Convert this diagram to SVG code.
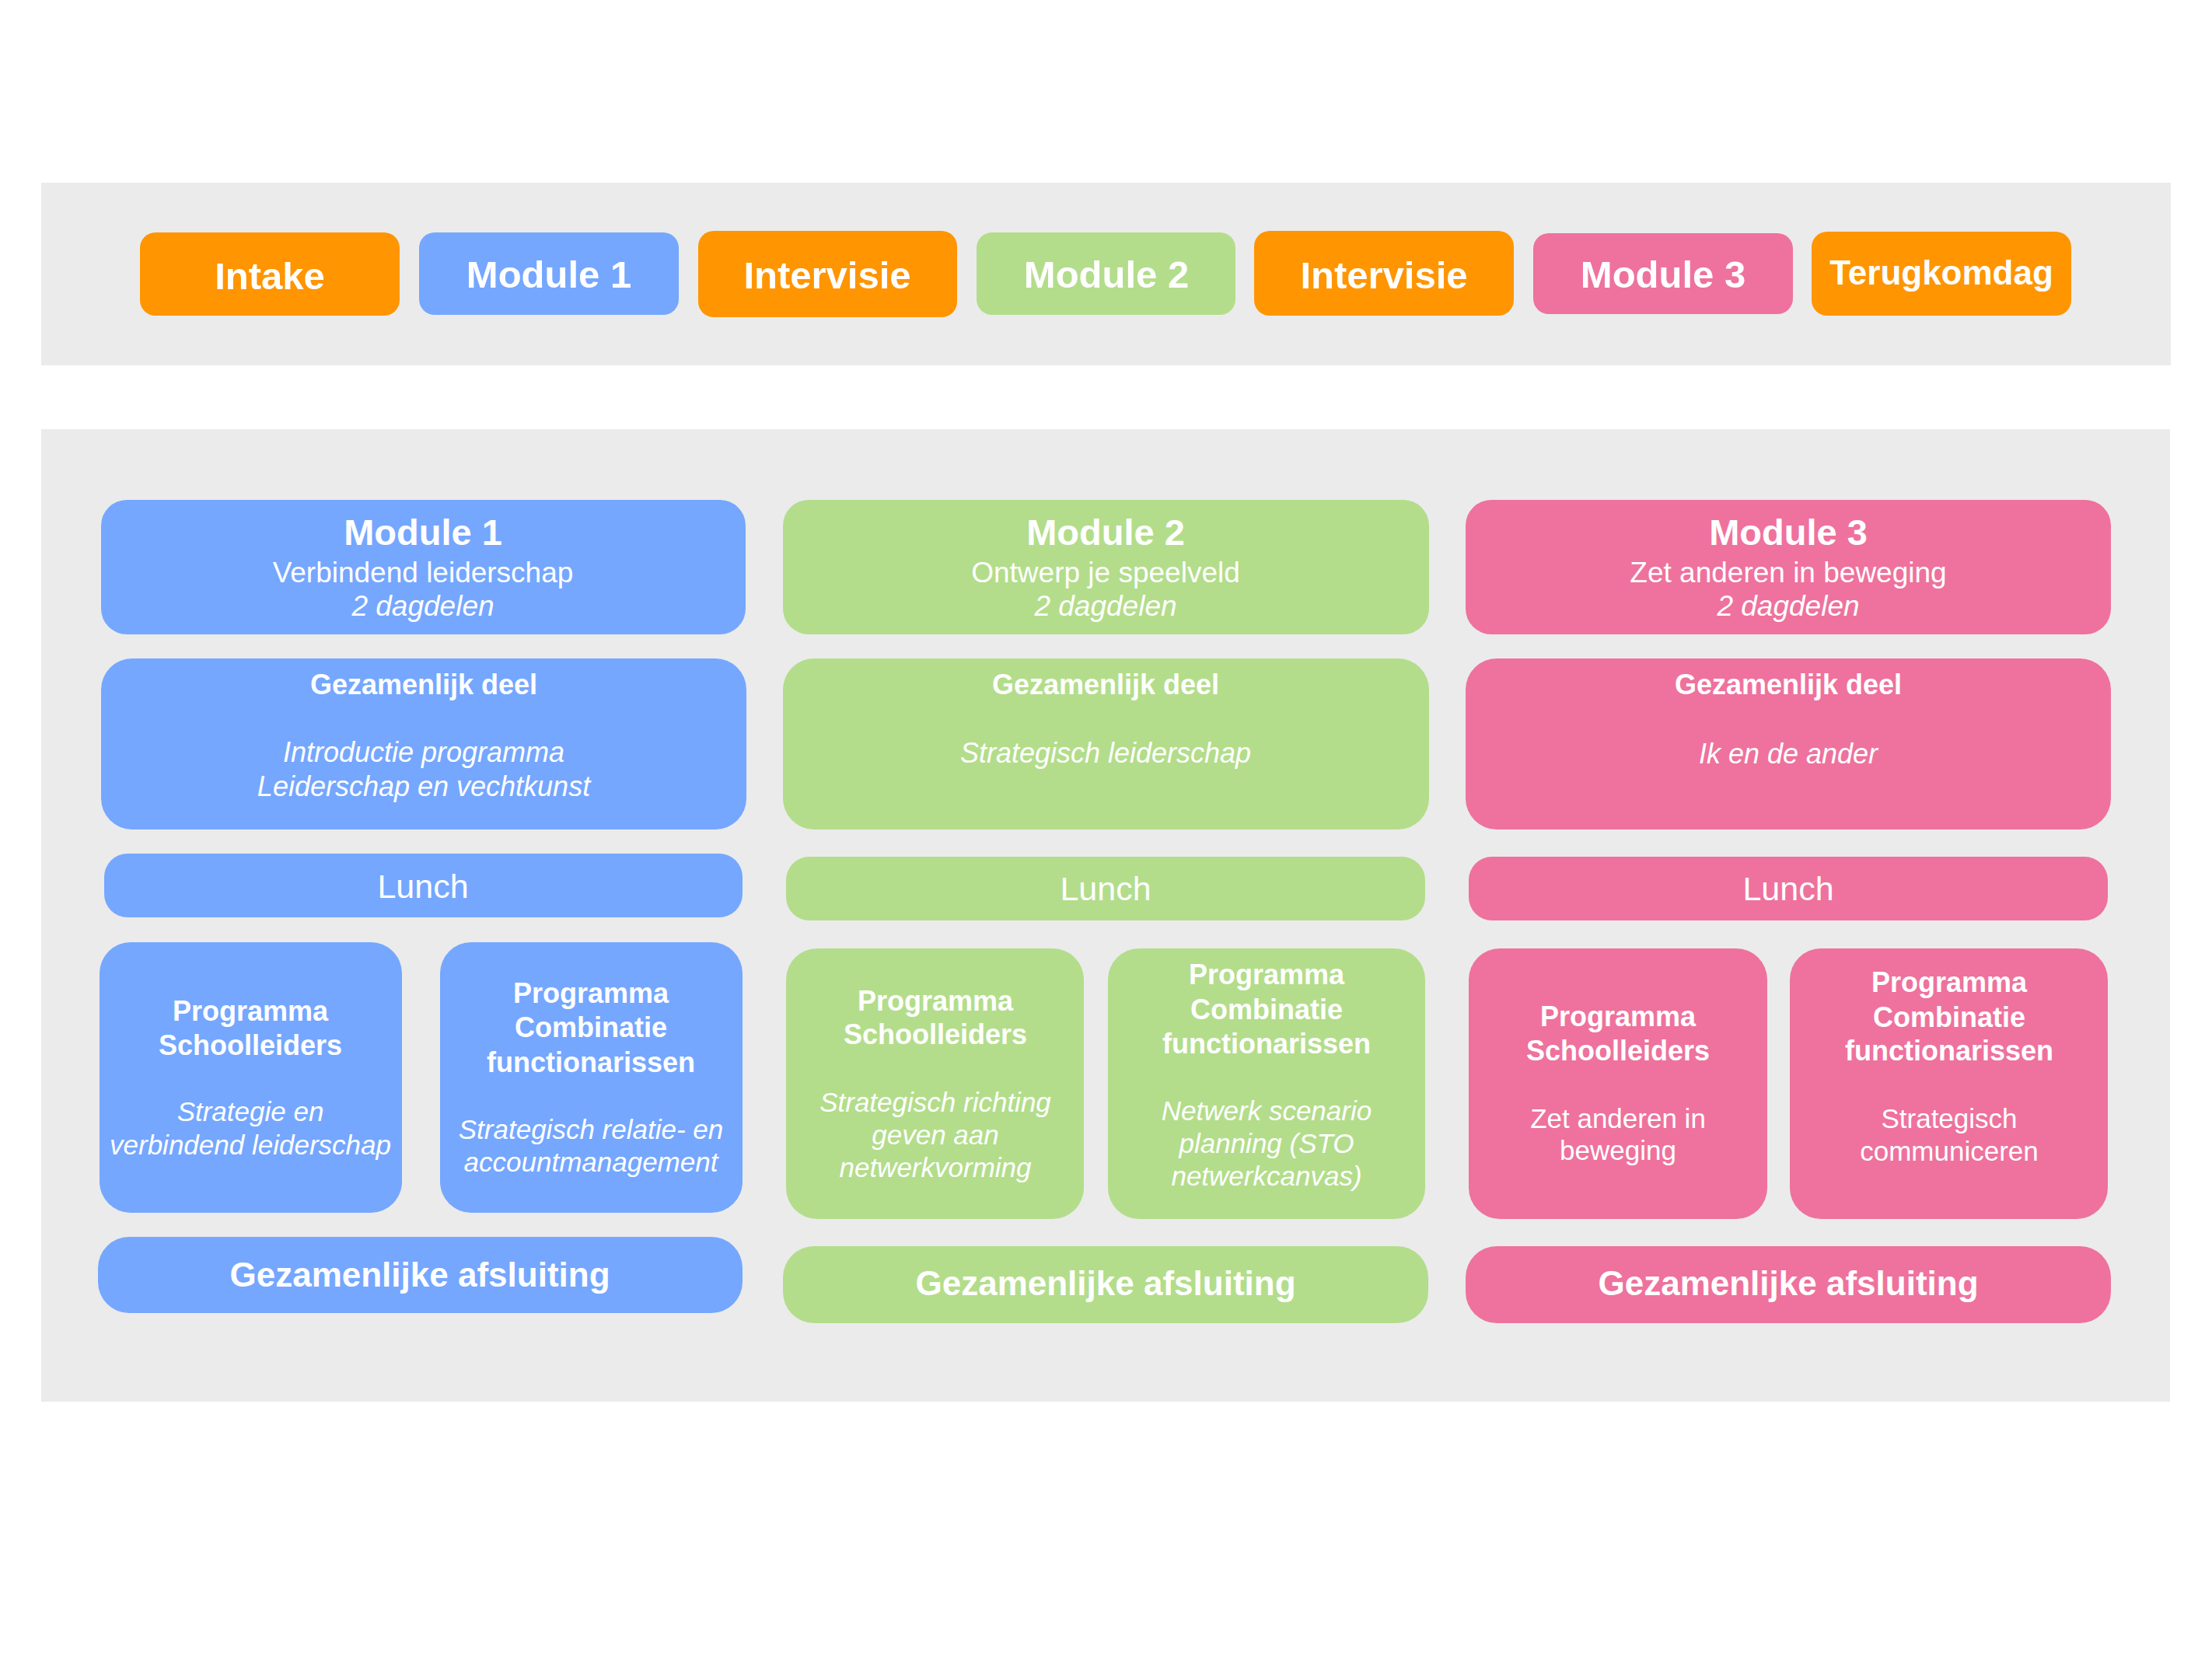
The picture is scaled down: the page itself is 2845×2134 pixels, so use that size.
<svg xmlns="http://www.w3.org/2000/svg" width="2845" height="2134" viewBox="0 0 2845 2134">
<style>
text{font-family:"Liberation Sans",Arial,Helvetica,sans-serif;fill:#fff;text-anchor:middle}
.b{font-weight:bold}
.i{font-style:italic}
.panel{fill:#EBEBEB}
.or{fill:#FF9500}.bl{fill:#75A7FF}.gr{fill:#B3DD8B}.pk{fill:#EE729D}
.tb{font-size:49px;font-weight:bold}
.h{font-size:47px;font-weight:bold}
.s{font-size:37px}
.g{font-size:36px;font-weight:bold}
.d{font-size:36px;font-style:italic}
.l{font-size:43px}
.p{font-size:36px;font-weight:bold}
.pd{font-size:35px}
.a{font-size:44px;font-weight:bold}
</style>
<rect width="2845" height="2134" fill="#fff"/>
<rect class="panel" x="53" y="235" width="2739" height="235"/>
<rect class="panel" x="53" y="552" width="2738" height="1251"/>

<g id="top-intake"><rect class="or" x="180" y="299" width="334" height="107" rx="20"/><text class="tb" x="347" y="372">Intake</text></g>
<g id="top-module1"><rect class="bl" x="539" y="299" width="334" height="106" rx="20"/><text class="tb" x="706" y="370">Module 1</text></g>
<g id="top-intervisie1"><rect class="or" x="898" y="297" width="333" height="111" rx="20"/><text class="tb" x="1064" y="371">Intervisie</text></g>
<g id="top-module2"><rect class="gr" x="1256" y="299" width="333" height="106" rx="20"/><text class="tb" x="1423" y="370">Module 2</text></g>
<g id="top-intervisie2"><rect class="or" x="1613" y="297" width="334" height="109" rx="20"/><text class="tb" x="1780" y="371">Intervisie</text></g>
<g id="top-module3"><rect class="pk" x="1972" y="300" width="334" height="104" rx="20"/><text class="tb" x="2139" y="370">Module 3</text></g>
<g id="top-terugkomdag"><rect class="or" x="2330" y="298" width="334" height="108" rx="20"/><text class="b" font-size="44" x="2497" y="366">Terugkomdag</text></g>

<g id="m1-header"><rect class="bl" x="130" y="643" width="829" height="173" rx="33"/>
<text class="h" x="544" y="701">Module 1</text><text class="s" x="544" y="749">Verbindend leiderschap</text><text class="s i" x="544" y="792">2 dagdelen</text></g>
<g id="m1-gezamenlijk"><rect class="bl" x="130" y="847" width="830" height="220" rx="40"/>
<text class="g" x="545" y="893">Gezamenlijk deel</text><text class="d" x="545" y="980">Introductie programma</text><text class="d" x="545" y="1024">Leiderschap en vechtkunst</text></g>
<g id="m1-lunch"><rect class="bl" x="134" y="1098" width="821" height="82" rx="30"/><text class="l" x="544" y="1155">Lunch</text></g>
<g id="m1-schoolleiders"><rect class="bl" x="128" y="1212" width="389" height="348" rx="40"/>
<text class="p" x="322" y="1313">Programma</text><text class="p" x="322" y="1357">Schoolleiders</text>
<text class="pd i" x="322" y="1442">Strategie en</text><text class="pd i" x="322" y="1485">verbindend leiderschap</text></g>
<g id="m1-combinatie"><rect class="bl" x="566" y="1212" width="389" height="348" rx="40"/>
<text class="p" x="760" y="1290">Programma</text><text class="p" x="760" y="1334">Combinatie</text><text class="p" x="760" y="1379">functionarissen</text>
<text class="pd i" x="760" y="1465">Strategisch relatie- en</text><text class="pd i" x="760" y="1507">accountmanagement</text></g>
<g id="m1-afsluiting"><rect class="bl" x="126" y="1591" width="829" height="98" rx="40"/><text class="a" x="540" y="1655">Gezamenlijke afsluiting</text></g>

<g id="m2-header"><rect class="gr" x="1007" y="643" width="831" height="173" rx="33"/>
<text class="h" x="1422" y="701">Module 2</text><text class="s" x="1422" y="749">Ontwerp je speelveld</text><text class="s i" x="1422" y="792">2 dagdelen</text></g>
<g id="m2-gezamenlijk"><rect class="gr" x="1007" y="847" width="831" height="220" rx="40"/>
<text class="g" x="1422" y="893">Gezamenlijk deel</text><text class="d" x="1422" y="981">Strategisch leiderschap</text></g>
<g id="m2-lunch"><rect class="gr" x="1011" y="1102" width="822" height="82" rx="30"/><text class="l" x="1422" y="1158">Lunch</text></g>
<g id="m2-schoolleiders"><rect class="gr" x="1011" y="1220" width="383" height="348" rx="40"/>
<text class="p" x="1203" y="1300">Programma</text><text class="p" x="1203" y="1343">Schoolleiders</text>
<text class="pd i" x="1203" y="1430">Strategisch richting</text><text class="pd i" x="1203" y="1472">geven aan</text><text class="pd i" x="1203" y="1514">netwerkvorming</text></g>
<g id="m2-combinatie"><rect class="gr" x="1425" y="1220" width="408" height="348" rx="40"/>
<text class="p" x="1629" y="1266">Programma</text><text class="p" x="1629" y="1311">Combinatie</text><text class="p" x="1629" y="1355">functionarissen</text>
<text class="pd i" x="1629" y="1441">Netwerk scenario</text><text class="pd i" x="1629" y="1483">planning (STO</text><text class="pd i" x="1629" y="1525">netwerkcanvas)</text></g>
<g id="m2-afsluiting"><rect class="gr" x="1007" y="1603" width="830" height="99" rx="40"/><text class="a" x="1422" y="1666">Gezamenlijke afsluiting</text></g>

<g id="m3-header"><rect class="pk" x="1885" y="643" width="830" height="173" rx="33"/>
<text class="h" x="2300" y="701">Module 3</text><text class="s" x="2300" y="749">Zet anderen in beweging</text><text class="s i" x="2300" y="792">2 dagdelen</text></g>
<g id="m3-gezamenlijk"><rect class="pk" x="1885" y="847" width="830" height="220" rx="40"/>
<text class="g" x="2300" y="893">Gezamenlijk deel</text><text class="d" x="2300" y="982">Ik en de ander</text></g>
<g id="m3-lunch"><rect class="pk" x="1889" y="1102" width="822" height="82" rx="30"/><text class="l" x="2300" y="1158">Lunch</text></g>
<g id="m3-schoolleiders"><rect class="pk" x="1889" y="1220" width="384" height="348" rx="40"/>
<text class="p" x="2081" y="1320">Programma</text><text class="p" x="2081" y="1364">Schoolleiders</text>
<text class="pd" x="2081" y="1451">Zet anderen in</text><text class="pd" x="2081" y="1492">beweging</text></g>
<g id="m3-combinatie"><rect class="pk" x="2302" y="1220" width="409" height="348" rx="40"/>
<text class="p" x="2507" y="1276">Programma</text><text class="p" x="2507" y="1321">Combinatie</text><text class="p" x="2507" y="1364">functionarissen</text>
<text class="pd" x="2507" y="1451">Strategisch</text><text class="pd" x="2507" y="1493">communiceren</text></g>
<g id="m3-afsluiting"><rect class="pk" x="1885" y="1603" width="830" height="99" rx="40"/><text class="a" x="2300" y="1666">Gezamenlijke afsluiting</text></g>

<g id="connectors"></g>
</svg>
